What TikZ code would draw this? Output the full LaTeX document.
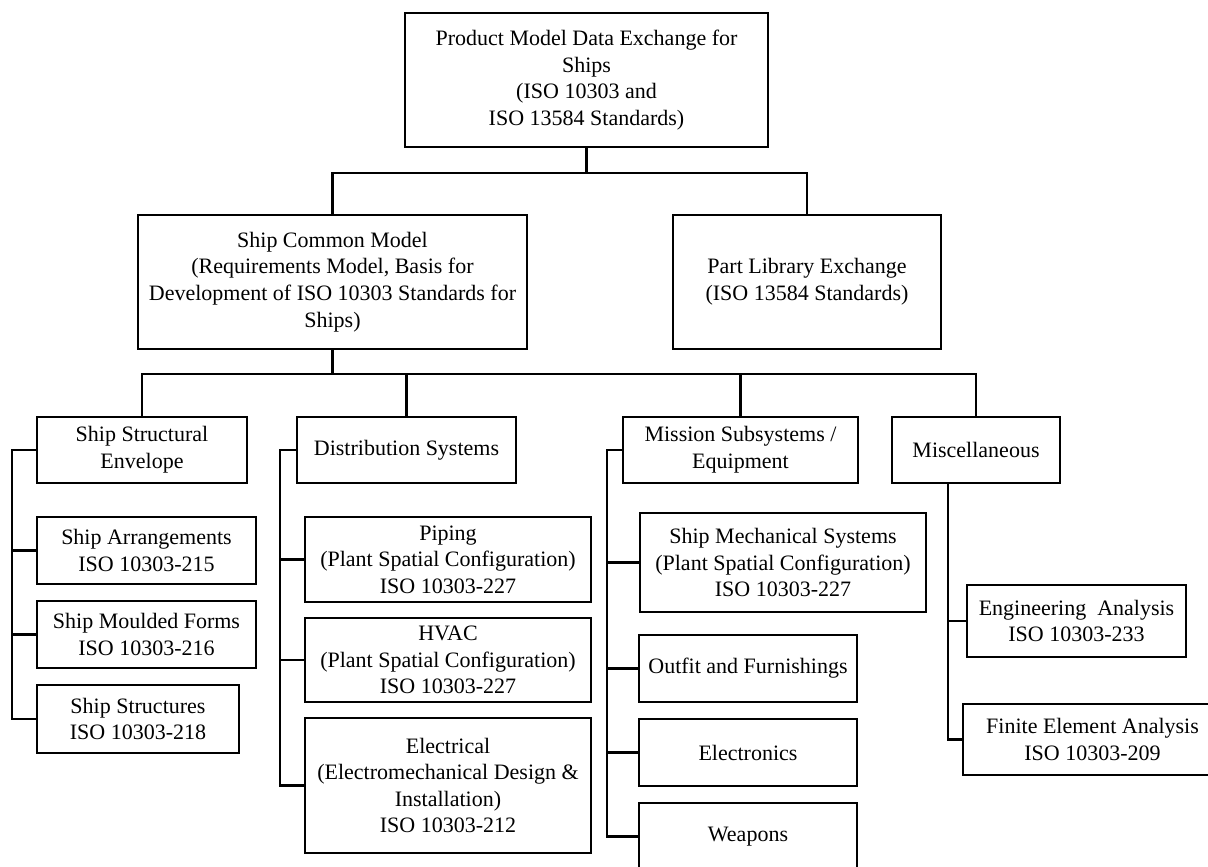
\documentclass[tikz,border=0pt]{standalone}
\usepackage{fontspec}
\setmainfont{Liberation Serif}
\usepackage{tikz}

\begin{document}
\begin{tikzpicture}[x=0.5pt, y=-0.5pt, line width=1.2pt,
box_style/.style={rectangle,draw=black,fill=white,inner sep=0pt,align=center,font=\fontsize{11}{13.3}\selectfont},
thin_box/.style={box_style,line width=0.8pt},
edge_style/.style={draw=black, line width=1.2pt}]
\useasboundingbox (0,0) rectangle (1208,866);
\clip (0,0) rectangle (1208,866);

\node[box_style, minimum width=181.5pt, minimum height=67pt] (top) at (586.5,80) {Product Model Data Exchange for\\Ships\\(ISO 10303 and\\ISO 13584 Standards)};
\node[box_style, minimum width=194.5pt, minimum height=67pt] (common) at (332.5,282) {Ship Common Model\\(Requirements Model, Basis for\\Development of ISO 10303 Standards for\\Ships)};
\node[box_style, minimum width=134pt, minimum height=67pt] (partlib) at (807,282) {Part Library Exchange\\(ISO 13584 Standards)};

\node[box_style, minimum width=105pt, minimum height=33pt] (envelope) at (142,450) {Ship Structural\\Envelope};
\node[box_style, minimum width=109.5pt, minimum height=33pt] (distrib) at (406.5,450) {Distribution Systems};
\node[box_style, minimum width=117.5pt, minimum height=33pt] (mission) at (740.5,450) {Mission Subsystems /\\Equipment};
\node[thin_box, minimum width=84pt, minimum height=33pt] (misc) at (976,450) {Miscellaneous};

\node[box_style, minimum width=109.5pt, minimum height=33.5pt] (arrange) at (146.5,550.5) {Ship Arrangements\\ISO 10303-215};
\node[box_style, minimum width=109.5pt, minimum height=33.5pt] (moulded) at (146.5,634.5) {Ship Moulded Forms\\ISO 10303-216};
\node[box_style, minimum width=101pt, minimum height=34pt] (structures) at (138,719) {Ship Structures\\ISO 10303-218};

\node[box_style, minimum width=143pt, minimum height=42.5pt] (piping) at (448,559.5) {Piping\\(Plant Spatial Configuration)\\ISO 10303-227};
\node[box_style, minimum width=143pt, minimum height=42pt] (hvac) at (448,660) {HVAC\\(Plant Spatial Configuration)\\ISO 10303-227};
\node[box_style, minimum width=143pt, minimum height=67.5pt] (electrical) at (448,785.5) {Electrical\\(Electromechanical Design \&\\Installation)\\ISO 10303-212};

\node[box_style, minimum width=143pt, minimum height=49.5pt] (mech) at (783,562.5) {Ship Mechanical Systems\\(Plant Spatial Configuration)\\ISO 10303-227};
\node[box_style, minimum width=109pt, minimum height=33.5pt] (outfit) at (748,668.5) {Outfit and Furnishings};
\node[box_style, minimum width=109pt, minimum height=33.5pt] (electronics) at (748,752.5) {Electronics};
\node[box_style, minimum width=109pt, minimum height=33.5pt] (weapons) at (748,836.5) {Weapons};

\node[thin_box, minimum width=109.5pt, minimum height=36pt] (engineering) at (1076.5,621) {Engineering\ \ Analysis\\ISO 10303-233};
\node[thin_box, minimum width=129.5pt, minimum height=35.5pt] (finite) at (1092.5,739.5) {Finite Element Analysis\\ISO 10303-209};

\coordinate (top_bus) at (586.5,173);
\coordinate (common_bus) at (332.5,374);
\coordinate (envelope_bus) at (12,450);
\coordinate (distrib_bus) at (280,450);
\coordinate (mission_bus) at (607,450);
\coordinate (misc_bus) at ([xshift=-14pt]misc.south);

\draw[edge_style] (top.south) -- (top_bus) -| (common.north);
\draw[edge_style] (top_bus) -| (partlib.north);

\draw[edge_style] (common.south) -- (common_bus) -| (envelope.north);
\draw[edge_style] (common_bus) -| (distrib.north);
\draw[edge_style] (common_bus) -| (mission.north);
\draw[edge_style] (common_bus) -| (misc.north);

\draw[edge_style] (envelope.west) -- (envelope_bus) |- (structures.west);
\draw[edge_style] (envelope_bus) |- (arrange.west);
\draw[edge_style] (envelope_bus) |- (moulded.west);

\draw[edge_style] (distrib.west) -- (distrib_bus) |- (electrical.west);
\draw[edge_style] (distrib_bus) |- (piping.west);
\draw[edge_style] (distrib_bus) |- (hvac.west);

\draw[edge_style] (mission.west) -- (mission_bus) |- (weapons.west);
\draw[edge_style] (mission_bus) |- (mech.west);
\draw[edge_style] (mission_bus) |- (outfit.west);
\draw[edge_style] (mission_bus) |- (electronics.west);

\draw[edge_style] (misc_bus) |- (finite.west);
\draw[edge_style] (misc_bus) |- (engineering.west);
\end{tikzpicture}
\end{document}
